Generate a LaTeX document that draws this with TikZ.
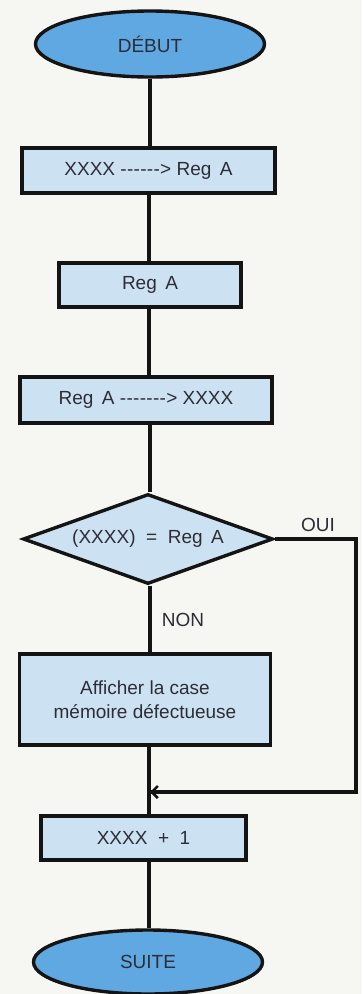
\documentclass[tikz,border=0pt]{standalone}
\usepackage{fontspec}
\setmainfont{Liberation Sans}
\usetikzlibrary{shapes.geometric,arrows.meta}
\definecolor{bg}{RGB}{246,246,242}
\definecolor{boxfill}{RGB}{204,226,242}
\definecolor{ovalfill}{RGB}{96,168,226}
\definecolor{ink}{RGB}{20,20,20}
\definecolor{txt}{RGB}{45,45,55}
\newcommand{\dsh}{-\kern0.3pt}
\tikzset{
  base/.style={draw=ink, line width=3.4pt, text=txt, font=\fontsize{19}{24}\selectfont, inner sep=0pt},
  oval/.style={base, ellipse, fill=ovalfill},
  procbox/.style={base, rectangle, fill=boxfill},
  testbox/.style={base, diamond, fill=boxfill, aspect=2.78},
  link/.style={draw=ink, line width=3.2pt},
  lbl/.style={text=txt, font=\fontsize{19}{24}\selectfont, inner sep=0pt}
}
\begin{document}
\begin{tikzpicture}[x=1pt,y=-1pt]
\fill[bg] (0,0) rectangle (362,994);
\useasboundingbox (0,0) rectangle (362,994);

\node[oval, minimum width=229pt, minimum height=66pt] (debut) at (150,44) {DÉBUT};
\node[procbox, minimum width=253pt, minimum height=45pt] (b1) at (148.5,170.5) {XXXX \dsh\dsh\dsh\dsh\dsh\dsh> Reg\ \,A};
\node[procbox, minimum width=182pt, minimum height=44pt] (b2) at (150,285) {Reg\ \,A};
\node[procbox, minimum width=252pt, minimum height=46pt] (b3) at (146,400) {Reg\ \,A \dsh\dsh\dsh\dsh\dsh\dsh\dsh> XXXX};
\node[testbox, minimum width=250pt, minimum height=90pt] (t) at (148,539) {(XXXX)\ \ =\ \ Reg\ \,A};
\node[procbox, minimum width=251pt, minimum height=91pt, align=center] (b4) at (145,699.5) {Afficher la case\\mémoire défectueuse};
\node[procbox, minimum width=205pt, minimum height=44pt] (b5) at (143.5,838) {XXXX\ \ +\ \ 1};
\node[oval, minimum width=229pt, minimum height=64pt] (suite) at (148,962) {SUITE};

\node[lbl] (oui) at (318,525) {OUI};
\node[lbl] (non) at (183,620) {NON};

\coordinate (rc) at (356,539);
\coordinate (rb) at (356,792);
\coordinate (mj) at (150,792);

\draw[link] (debut.south -| 150,0) -- (b1.north -| 150,0);
\draw[link] (b1.south -| 149,0) -- (b2.north -| 149,0);
\draw[link] (b2.south -| 149,0) -- (b3.north -| 149,0);
\draw[link] (b3.south -| 150,0) -- (t.north -| 150,0);
\draw[link] (t.south -| 150,0) -- (b4.north -| 150,0);
\draw[link] (b4.south -| 149,0) -- (b5.north -| 149,0);
\draw[link] (b5.south -| 149,0) -- (suite.north -| 149,0);
\draw[link] (t.east) -- (rc) -- (rb) -- (mj);
\draw[link, -{Straight Barb[length=6pt,width=12pt,line width=2.6pt]}] (rb) -- (mj);
\end{tikzpicture}
\end{document}
